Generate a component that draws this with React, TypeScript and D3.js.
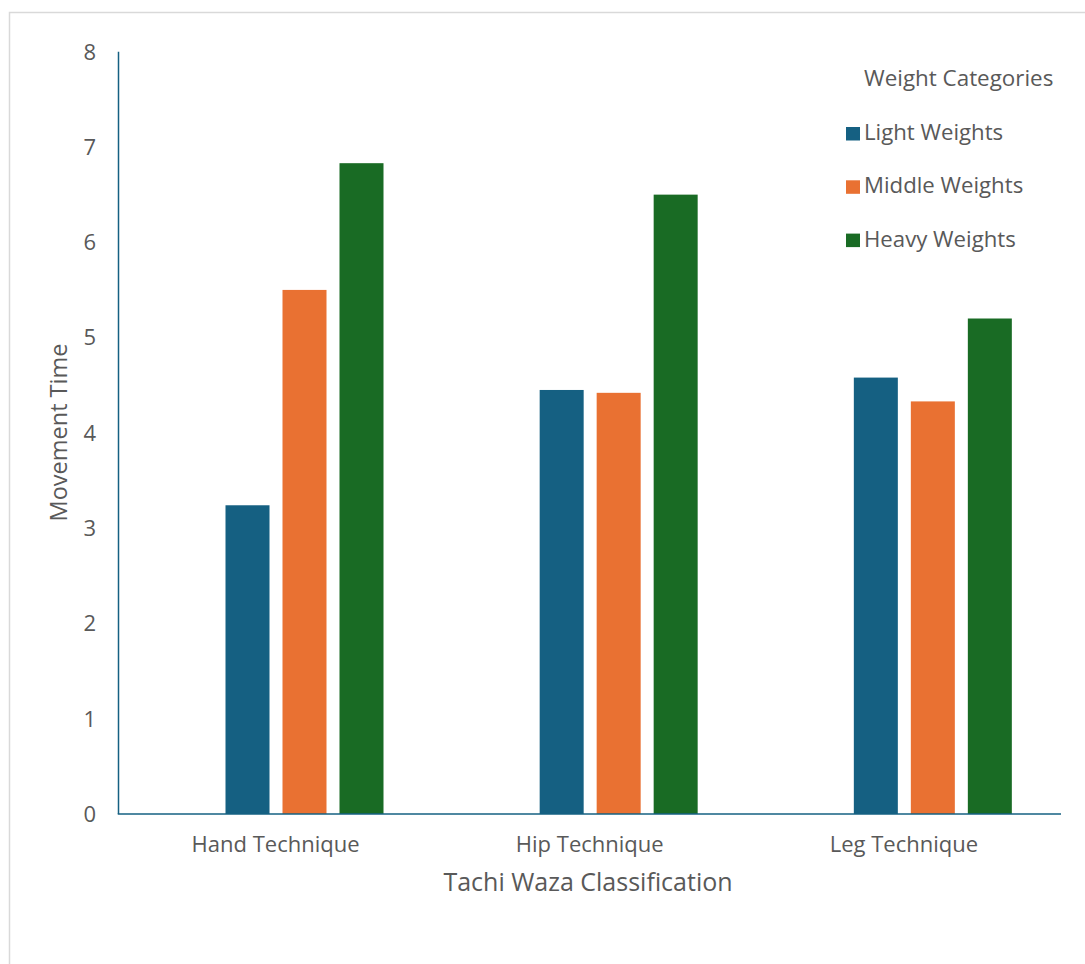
import React from "react";
import * as d3 from "d3";

// Tachi waza movement time by weight category
const categories = ["Hand Technique", "Hip Technique", "Leg Technique"];
const seriesNames = ["Light Weights", "Middle Weights", "Heavy Weights"];
const lightWeights = [3.24, 4.45, 4.58];
const middleWeights = [5.5, 4.42, 4.33];
const heavyWeights = [6.83, 6.5, 5.2];
const yTicks = [0, 1, 2, 3, 4, 5, 6, 7, 8];
const seriesColors = ["#156082", "#E97132", "#196B24"];

const W = 1085;
const H = 964;
const FONT = "'Open Sans', 'Liberation Sans', sans-serif";
const TEXT = "#595959";

export default function App() {
  const values = [lightWeights, middleWeights, heavyWeights];

  const plot = { left: 118.5, right: 1061, top: 51.7, bottom: 814 };

  const x0 = d3
    .scaleBand<string>()
    .domain(categories)
    .range([plot.left, plot.right])
    .paddingInner(0)
    .paddingOuter(0);

  // bar group sits in the right part of each category band
  const x1 = d3
    .scaleBand<string>()
    .domain(seriesNames)
    .range([107, 265])
    .paddingInner(0.228)
    .paddingOuter(0);

  const y = d3.scaleLinear().domain([0, 8]).range([plot.bottom, plot.top]);

  const legendX = 846;
  const legendY0 = 127;
  const legendStep = 53.3;

  return (
    <svg
      width={W}
      height={H}
      style={{ position: "absolute", left: 0, top: 0, background: "#fff" }}
      fontFamily={FONT}
    >
      {/* chart frame */}
      <rect x={9.5} y={12.5} width={W + 20} height={H + 20} fill="#fff" stroke="#d9d9d9" strokeWidth={1.5} />

      {/* y tick labels */}
      {yTicks.map((t) => (
        <text
          key={t}
          x={96}
          y={y(t)}
          dy="0.36em"
          textAnchor="end"
          fontSize={22}
          fill={TEXT}
        >
          {t}
        </text>
      ))}

      {/* bars */}
      {categories.map((c, ci) => (
        <g key={c} transform={`translate(${x0(c)},0)`}>
          {seriesNames.map((s, si) => {
            const v = values[si][ci];
            return (
              <rect
                key={s}
                x={x1(s)}
                y={y(v)}
                width={x1.bandwidth()}
                height={y(0) - y(v)}
                fill={seriesColors[si]}
              />
            );
          })}
        </g>
      ))}

      {/* axes lines */}
      <line x1={plot.left} x2={plot.left} y1={plot.top} y2={plot.bottom} stroke="#156082" strokeWidth={1.5} />
      <line x1={plot.left - 0.75} x2={plot.right} y1={plot.bottom} y2={plot.bottom} stroke="#156082" strokeWidth={1.5} />

      {/* category labels */}
      {categories.map((c) => (
        <text
          key={c}
          x={(x0(c) as number) + x0.bandwidth() / 2}
          y={852}
          textAnchor="middle"
          fontSize={22}
          fill={TEXT}
        >
          {c}
        </text>
      ))}

      {/* axis titles */}
      <text x={588} y={891} textAnchor="middle" fontSize={25} fill={TEXT}>
        Tachi Waza Classification
      </text>
      <text
        transform={`translate(67,432.5) rotate(-90)`}
        textAnchor="middle"
        fontSize={23.5}
        fill={TEXT}
      >
        Movement Time
      </text>

      {/* legend */}
      <text x={864} y={86} fontSize={22.4} fill={TEXT}>
        Weight Categories
      </text>
      {seriesNames.map((s, i) => (
        <g key={s} transform={`translate(${legendX},${legendY0 + i * legendStep})`}>
          <rect x={0} y={0} width={14} height={13.5} fill={seriesColors[i]} />
          <text x={18} y={13} fontSize={22.2} fill={TEXT}>
            {s}
          </text>
        </g>
      ))}
    </svg>
  );
}
